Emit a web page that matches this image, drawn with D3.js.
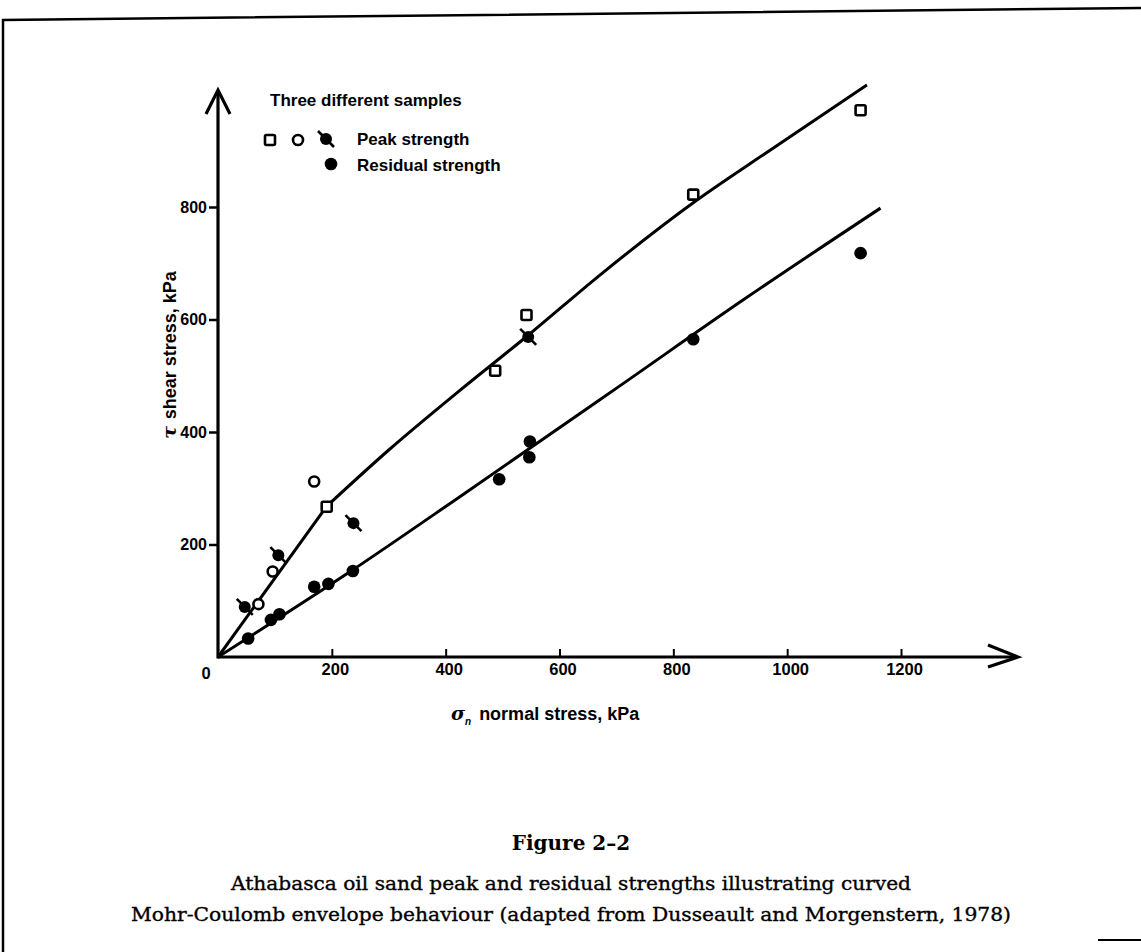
<!DOCTYPE html>
<html>
<head>
<meta charset="utf-8">
<script src="https://cdn.jsdelivr.net/npm/d3@7"></script>
<style>
  html, body { margin: 0; padding: 0; background: #fff; }
  svg { display: block; }
</style>
</head>
<body>
<svg id="chart" width="1141" height="952"></svg>
<script>
// ---------------- DATA ----------------
const xTicks = [0, 200, 400, 600, 800, 1000, 1200];
const yTicks = [200, 400, 600, 800];

// peak strength, sample 1 (open squares)
const peakSquares = [[191, 267], [487, 509], [542, 608], [835, 822], [1129, 972]];
// peak strength, sample 2 (open circles)
const peakCircles = [[71, 94], [96, 152], [169, 312]];
// peak strength, sample 3 (filled circle with slash)
const peakSlashed = [[47, 89], [106, 181], [238, 238], [545, 569]];
// residual strength (filled circles)
const residual = [[53, 33], [93, 66], [108, 76], [169, 125], [194, 130], [237, 153],
                  [494, 316], [547, 355], [548, 383], [835, 565], [1129, 718]];

// envelopes
const peakEnvelopeLow = [[0, 0], [191, 268]];
const peakEnvelopeHigh = [[191, 268], [300, 368], [425, 474], [545, 572], [671, 679],
                          [841, 812], [970, 901], [1140, 1017]];
const residualEnvelope = [[0, 0], [237, 155], [425, 285], [706, 482], [923, 635], [1164, 798]];

const legendTitle = "Three different samples";
const legendPeak = "Peak strength";
const legendResidual = "Residual strength";
const xLabel = "normal stress, kPa";
const yLabel = "shear stress, kPa";
const figTitle = "Figure 2\u20132";
const caption1 = "Athabasca oil sand peak and residual strengths illustrating curved";
const caption2 = "Mohr-Coulomb envelope behaviour (adapted from Dusseault and Morgenstern, 1978)";

// ---------------- DRAW ----------------
const svg = d3.select("#chart");
const sans = "'Liberation Sans', Arial, sans-serif";
const serif = "'DejaVu Serif', serif";

const x = d3.scaleLinear().domain([0, 1200]).range([218, 901]);
const y = d3.scaleLinear().domain([0, 800]).range([657, 207]);

// page border (scan edge)
svg.append("path").attr("d", "M3,952 L3,20 L1141,8")
  .attr("fill", "none").attr("stroke", "#000").attr("stroke-width", 2.5);
svg.append("line").attr("x1", 1098).attr("y1", 940).attr("x2", 1141).attr("y2", 940)
  .attr("stroke", "#000").attr("stroke-width", 2);

const ink = "#000";

// axes lines with arrows
const ax0 = x(0), ay0 = y(0);
svg.append("line").attr("x1", ax0).attr("y1", ay0).attr("x2", 1016).attr("y2", ay0)
  .attr("stroke", ink).attr("stroke-width", 3.2);
svg.append("line").attr("x1", ax0).attr("y1", ay0 + 1.5).attr("x2", ax0).attr("y2", 92)
  .attr("stroke", ink).attr("stroke-width", 3.2);
svg.append("path").attr("d", `M${ax0 - 12},${114} L${ax0},${90} L${ax0 + 12},${114}`)
  .attr("fill", "none").attr("stroke", ink).attr("stroke-width", 3.2).attr("stroke-linejoin", "miter");
svg.append("path").attr("d", `M${988},${ay0 - 12} L${1018},${ay0} L${988},${ay0 + 10}`)
  .attr("fill", "none").attr("stroke", ink).attr("stroke-width", 3.2).attr("stroke-linejoin", "miter");

// x ticks
const xAxis = d3.axisBottom(x).tickValues(xTicks.filter(d => d > 0))
  .tickFormat(d3.format("d"))
  .tickSize(-8).tickSizeOuter(0).tickPadding(15);
const gx = svg.append("g").attr("transform", `translate(0,${ay0})`).call(xAxis);
gx.select(".domain").remove();
gx.selectAll(".tick line").attr("stroke", ink).attr("stroke-width", 2);
gx.selectAll(".tick text").attr("font-family", sans).attr("font-weight", "bold")
  .attr("font-size", 16.5).attr("fill", ink).attr("dx", 3).attr("dy", "0.2em");
// "0" label at the corner
svg.append("text").attr("x", 206).attr("y", ay0 + 22).attr("text-anchor", "middle")
  .attr("font-family", sans).attr("font-weight", "bold").attr("font-size", 16.5).text(xTicks[0]);

// y ticks
const yAxis = d3.axisLeft(y).tickValues(yTicks).tickFormat(d3.format("d"))
  .tickSize(9).tickSizeOuter(0).tickPadding(2);
const gy = svg.append("g").attr("transform", `translate(${ax0},0)`).call(yAxis);
gy.select(".domain").remove();
gy.selectAll(".tick line").attr("stroke", ink).attr("stroke-width", 2.5);
gy.selectAll(".tick text").attr("font-family", sans).attr("font-weight", "bold")
  .attr("font-size", 16).attr("fill", ink);

// axis labels
const xl = svg.append("text").attr("x", 451).attr("y", 720)
  .attr("font-family", sans).attr("font-weight", "bold").attr("font-size", 18).attr("fill", ink);
xl.append("tspan").attr("font-family", serif).attr("font-style", "italic").attr("font-size", 19).text("\u03c3");
xl.append("tspan").attr("font-size", 10).attr("font-style", "italic").attr("dy", 5).text("n");
xl.append("tspan").attr("dy", -5).attr("dx", 8).text(xLabel);

const yl = svg.append("text").attr("transform", "translate(176,355) rotate(-90)")
  .attr("text-anchor", "middle")
  .attr("font-family", sans).attr("font-weight", "bold").attr("font-size", 18).attr("fill", ink);
yl.append("tspan").attr("font-family", serif).attr("font-style", "italic").attr("font-size", 19).text("\u03c4 ");
yl.append("tspan").text(yLabel);

// envelopes
const line = d3.line().x(d => x(d[0])).y(d => y(d[1]));
const curve = d3.line().x(d => x(d[0])).y(d => y(d[1])).curve(d3.curveMonotoneX);
svg.append("path").attr("d", line(peakEnvelopeLow)).attr("fill", "none")
  .attr("stroke", ink).attr("stroke-width", 3);
svg.append("path").attr("d", curve(peakEnvelopeHigh)).attr("fill", "none")
  .attr("stroke", ink).attr("stroke-width", 3);
svg.append("path").attr("d", curve(residualEnvelope)).attr("fill", "none")
  .attr("stroke", ink).attr("stroke-width", 3);

// markers
function drawSquare(g, cx, cy) {
  g.append("rect").attr("x", cx - 5).attr("y", cy - 5).attr("width", 10).attr("height", 10)
    .attr("rx", 1.5).attr("fill", "#fff").attr("stroke", ink).attr("stroke-width", 2.6);
}
function drawOpenCircle(g, cx, cy) {
  g.append("circle").attr("cx", cx).attr("cy", cy).attr("r", 5)
    .attr("fill", "#fff").attr("stroke", ink).attr("stroke-width", 2.6);
}
function drawFilled(g, cx, cy) {
  g.append("circle").attr("cx", cx).attr("cy", cy).attr("r", 6.3).attr("fill", ink);
}
function drawSlashed(g, cx, cy) {
  g.append("circle").attr("cx", cx).attr("cy", cy).attr("r", 6).attr("fill", ink);
  g.append("line").attr("x1", cx - 8).attr("y1", cy - 8).attr("x2", cx + 8).attr("y2", cy + 8)
    .attr("stroke", ink).attr("stroke-width", 2.6);
}

const gm = svg.append("g");
residual.forEach(d => drawFilled(gm, x(d[0]), y(d[1])));
peakSlashed.forEach(d => drawSlashed(gm, x(d[0]), y(d[1])));
peakCircles.forEach(d => drawOpenCircle(gm, x(d[0]), y(d[1])));
peakSquares.forEach(d => drawSquare(gm, x(d[0]), y(d[1])));

// legend
const gl = svg.append("g");
gl.append("text").attr("x", 270).attr("y", 106).attr("font-family", sans).attr("font-weight", "bold")
  .attr("font-size", 17).text(legendTitle);
drawSquare(gl, 270, 140);
drawOpenCircle(gl, 298, 140);
drawSlashed(gl, 326, 139);
drawFilled(gl, 331, 164);
gl.append("text").attr("x", 357).attr("y", 145).attr("font-family", sans).attr("font-weight", "bold")
  .attr("font-size", 17).text(legendPeak);
gl.append("text").attr("x", 357).attr("y", 171).attr("font-family", sans).attr("font-weight", "bold")
  .attr("font-size", 17).text(legendResidual);

// caption
svg.append("text").attr("x", 571).attr("y", 850).attr("text-anchor", "middle")
  .attr("font-family", serif).attr("font-weight", "bold").attr("font-size", 20).text(figTitle);
svg.append("text").attr("x", 571).attr("y", 890).attr("text-anchor", "middle")
  .attr("font-family", serif).attr("font-size", 19)
  .attr("stroke", "#000").attr("stroke-width", 0.35)
  .attr("textLength", 680).attr("lengthAdjust", "spacingAndGlyphs").text(caption1);
svg.append("text").attr("x", 571).attr("y", 921).attr("text-anchor", "middle")
  .attr("font-family", serif).attr("font-size", 19)
  .attr("stroke", "#000").attr("stroke-width", 0.35)
  .attr("textLength", 880).attr("lengthAdjust", "spacingAndGlyphs").text(caption2);
</script>
</body>
</html>
